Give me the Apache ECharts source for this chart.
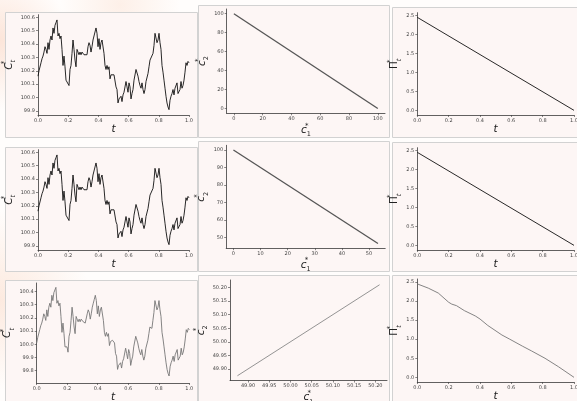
<!DOCTYPE html>
<html><head><meta charset="utf-8">
<script src="https://cdn.jsdelivr.net/npm/echarts@6/dist/echarts.min.js"></script>
<style>html,body{margin:0;padding:0;background:#fff}#c{width:577px;height:401px}</style>
</head><body><div id="c"></div>
<script>
// ---- data ----
const walkC = [100.16,100.20,100.19,100.26,100.29,100.31,100.34,100.38,100.36,100.33,
100.41,100.36,100.43,100.46,100.43,100.52,100.48,100.54,100.56,100.58,
100.46,100.48,100.44,100.46,100.36,100.24,100.31,100.23,100.13,100.12,
100.13,100.09,100.21,100.24,100.33,100.43,100.36,100.28,100.23,100.36,
100.34,100.32,100.34,100.32,100.34,100.33,100.32,100.33,100.31,100.32,
100.38,100.41,100.39,100.34,100.38,100.43,100.46,100.49,100.52,100.48,
100.38,100.44,100.36,100.41,100.43,100.42,100.33,100.24,100.21,100.24,
100.21,100.23,100.14,100.17,100.16,100.18,100.17,100.16,100.08,100.06,
99.96,99.99,99.98,100.01,99.97,100.02,100.04,100.03,100.12,100.08,
100.04,100.11,100.08,99.99,100.03,100.06,100.13,100.14,100.21,100.22,
100.16,100.12,100.09,100.07,100.11,100.06,100.03,100.06,100.12,100.13,
100.18,100.23,100.28,100.29,100.27,100.33,100.39,100.48,100.47,100.41,
100.43,100.48,100.41,100.36,100.24,100.19,100.13,100.07,100.01,99.96,
99.93,99.91,99.98,100.01,100.03,100.06,100.02,100.07,100.08,100.11,
100.03,100.02,100.06,100.12,100.07,100.09,100.13,100.19,100.26,100.24,
100.27,100.26];
const walkC3 = [100.01,100.05,100.04,100.11,100.14,100.16,100.19,100.23,100.21,100.18,
100.26,100.21,100.28,100.31,100.28,100.37,100.33,100.39,100.41,100.43,
100.31,100.33,100.29,100.31,100.21,100.09,100.16,100.08,99.98,99.97,
99.98,99.94,100.06,100.09,100.18,100.28,100.21,100.13,100.08,100.21,
100.19,100.17,100.19,100.17,100.19,100.18,100.17,100.18,100.16,100.17,
100.23,100.26,100.24,100.19,100.23,100.28,100.31,100.34,100.37,100.33,
100.23,100.29,100.21,100.26,100.28,100.27,100.18,100.09,100.06,100.09,
100.06,100.08,99.99,100.02,100.01,100.03,100.02,100.01,99.93,99.91,
99.81,99.84,99.83,99.86,99.82,99.87,99.89,99.88,99.97,99.93,
99.89,99.96,99.93,99.84,99.88,99.91,99.98,99.99,100.06,100.07,
100.01,99.97,99.94,99.92,99.96,99.91,99.88,99.91,99.97,99.98,
100.03,100.08,100.13,100.14,100.12,100.18,100.24,100.33,100.32,100.26,
100.28,100.33,100.26,100.21,100.09,100.04,99.98,99.92,99.86,99.81,
99.78,99.76,99.83,99.86,99.88,99.91,99.87,99.92,99.93,99.96,
99.88,99.87,99.91,99.97,99.92,99.94,99.98,100.04,100.11,100.09,
100.12,100.11];

const c1Row1 = [0, 100];      const c2Row1 = [100, 0];
const c1Row2 = [0, 53.3];     const c2Row2 = [100, 46.7];
const c1Row3 = [49.875, 50.21]; const c2Row3 = [49.875, 50.21];

const tPi = [0, 1];           const piVals = [2.45, 0];
const tPi3 = [0,0.07,0.134,0.2,0.22,0.25,0.3,0.37,0.4,0.45,0.54,0.59,0.67,0.73,0.815,0.9,1.0];
const piVals3 = [2.45,2.34,2.21,1.97,1.92,1.88,1.75,1.61,1.53,1.36,1.11,1.0,0.82,0.69,0.5,0.28,0.0];

// tick labels
const ticksT = [0, 0.2, 0.4, 0.6, 0.8, 1.0];
const ticksC = [99.9, 100.0, 100.1, 100.2, 100.3, 100.4, 100.5, 100.6];
const ticksC3 = [99.8, 99.9, 100.0, 100.1, 100.2, 100.3, 100.4];
const ticksR1 = [0, 20, 40, 60, 80, 100];
const ticksR2x = [0, 10, 20, 30, 40, 50];
const ticksR2y = [50, 60, 70, 80, 90, 100];
const ticksR3 = [49.90, 49.95, 50.00, 50.05, 50.10, 50.15, 50.20];
const ticksPi = [0, 0.5, 1.0, 1.5, 2.0, 2.5];

// ---- layout ----
const grids = [
  {left:38,  top:14.7, width:151,   height:100.3},
  {left:226.7, top:9,  width:158.3, height:104.3},
  {left:417.3, top:12.7, width:156.7, height:102.3},
  {left:38,  top:149.7, width:151,   height:100.3},
  {left:226.2, top:145.3, width:159, height:102.9},
  {left:417.3, top:147.7, width:156.7, height:102.3},
  {left:36.7, top:283, width:152.6, height:100},
  {left:230, top:280, width:157, height:100.5},
  {left:417.3, top:279, width:156.7, height:103}
].map(g => Object.assign({containLabel:false, outerBoundsMode:'none'}, g));

const panels = [
  [5,12,192,125],[198,5,191,132],[392,7,190,130],
  [5,147,192,124],[198,141,191,130],[392,142,190,129],
  [5,280,192,125],[198,275,191,130],[392,275,190,130]
];

const FONT = 'DejaVu Sans';
const rich = {
  m:  {fontFamily:FONT, fontStyle:'italic', fontSize:10.5, color:'#222', lineHeight:16},
  p:  {fontFamily:FONT, fontSize:10.5, color:'#222', lineHeight:16},
  up: {fontFamily:FONT, fontSize:7, color:'#222', verticalAlign:'top', lineHeight:16, width:0},
  dn: {fontFamily:FONT, fontStyle:'italic', fontSize:6.5, color:'#222', verticalAlign:'bottom', lineHeight:16},
  dd: {fontFamily:FONT, fontSize:6.5, color:'#222', verticalAlign:'bottom', lineHeight:16}
};
const nameC = '{m|C}{up|*}{dn|t}';
const nameC1 = '{m|c}{up|*}{dd|1}';
const nameC2 = '{m|c}{up|*}{dd|2}';
const namePi = '{p|Π}{up|*}{dn|t}';
const nameT = '{m|t}';

function ax(gi, min, max, ticks, dec, name, gap, isY) {
  return {
    type:'value', gridIndex:gi, min:min, max:max,
    splitLine:{show:false},
    axisLine:{show:true, onZero:false, lineStyle:{color:'#3a3a3a', width:0.8}},
    axisTick:{show:true, length:2, inside:false, customValues:ticks, lineStyle:{color:'#3a3a3a', width:0.6}},
    axisLabel:{show:true, customValues:ticks, fontSize:5, color:'#444', fontFamily:FONT, margin:3,
      formatter: v => Number(v).toFixed(dec)},
    name:name, nameLocation:'middle', nameGap:gap, nameRotate: isY ? 90 : 0,
    nameTextStyle:{rich:rich}
  };
}

const xAxes = [
  ax(0, 0, 1, ticksT, 1, nameT, 6, false),
  ax(1, -5, 105, ticksR1, 0, nameC1, 4, false),
  ax(2, 0, 1, ticksT, 1, nameT, 6, false),
  ax(3, 0, 1, ticksT, 1, nameT, 6, false),
  ax(4, -2.665, 55.965, ticksR2x, 0, nameC1, 4, false),
  ax(5, 0, 1, ticksT, 1, nameT, 6, false),
  ax(6, 0, 1, ticksT, 1, nameT, 6, false),
  ax(7, 49.8575, 50.2275, ticksR3, 2, nameC1, 5, false),
  ax(8, 0, 1, ticksT, 1, nameT, 6, false)
];
const yAxes = [
  ax(0, 99.87, 100.619, ticksC, 1, nameC, 13.5, true),
  ax(1, -5, 105, ticksR1, 0, nameC2, 10.5, true),
  ax(2, -0.1225, 2.5725, ticksPi, 1, namePi, 7.5, true),
  ax(3, 99.87, 100.619, ticksC, 1, nameC, 13.5, true),
  ax(4, 44.03, 102.67, ticksR2y, 0, nameC2, 10.5, true),
  ax(5, -0.1225, 2.5725, ticksPi, 1, namePi, 7.5, true),
  ax(6, 99.707, 100.463, ticksC3, 1, nameC, 12, true),
  ax(7, 49.8575, 50.2275, ticksR3, 2, nameC2, 14, true),
  ax(8, -0.1225, 2.579, ticksPi, 1, namePi, 7.5, true)
];

const walkData = arr => arr.map((v, i) => [i / (arr.length - 1), v]);
const pairData = (xs, ys) => xs.map((x, i) => [x, ys[i]]);
function line(i, data, color, w) {
  return {type:'line', xAxisIndex:i, yAxisIndex:i, data:data, showSymbol:false, symbol:'none',
    animation:false, lineStyle:{color:color, width:w}, silent:true};
}
const series = [
  line(0, walkData(walkC), '#111', 0.9),
  line(1, pairData(c1Row1, c2Row1), '#555', 1.3),
  line(2, pairData(tPi, piVals), '#111', 0.9),
  line(3, walkData(walkC), '#111', 0.9),
  line(4, pairData(c1Row2, c2Row2), '#555', 1.3),
  line(5, pairData(tPi, piVals), '#111', 0.9),
  line(6, walkData(walkC3), '#777', 0.9),
  line(7, pairData(c1Row3, c2Row3), '#888', 0.9),
  line(8, pairData(tPi3, piVals3), '#777', 0.9)
];

const graphic = [
  {type:'circle', z:-20, silent:true, shape:{cx:0, cy:40, r:70},
   style:{fill:{type:'radial', x:0.5, y:0.5, r:0.5, colorStops:[{offset:0,color:'rgba(248,200,175,0.45)'},{offset:1,color:'rgba(248,200,175,0)'}]}}},
  {type:'circle', z:-20, silent:true, shape:{cx:0, cy:300, r:90},
   style:{fill:{type:'radial', x:0.5, y:0.5, r:0.5, colorStops:[{offset:0,color:'rgba(248,205,180,0.4)'},{offset:1,color:'rgba(248,205,180,0)'}]}}},
  {type:'circle', z:-20, silent:true, shape:{cx:120, cy:5, r:60},
   style:{fill:{type:'radial', x:0.5, y:0.5, r:0.5, colorStops:[{offset:0,color:'rgba(250,215,195,0.35)'},{offset:1,color:'rgba(250,215,195,0)'}]}}}
].concat(panels.map(p => ({
  type:'rect', z:-10, silent:true,
  shape:{x:p[0]+0.5, y:p[1]+0.5, width:p[2], height:p[3]},
  style:{fill:'#fdf6f5', stroke:'#d2d2d2', lineWidth:1}
})));

const chart = echarts.init(document.getElementById('c'), null, {renderer:'canvas'});
chart.setOption({
  animation:false,
  backgroundColor:'#fffdfc',
  grid:grids, xAxis:xAxes, yAxis:yAxes, series:series, graphic:graphic
});
</script></body></html>
